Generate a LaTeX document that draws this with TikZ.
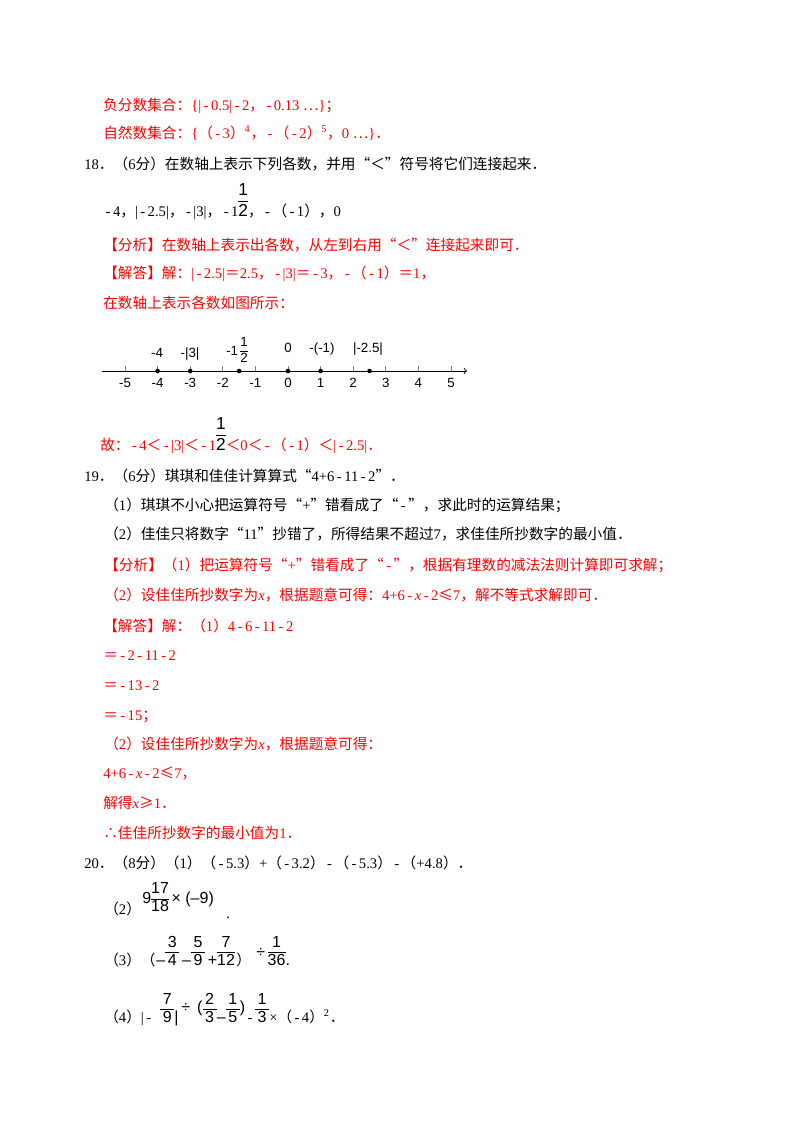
\documentclass[tikz,border=0pt]{standalone}
\usepackage{fontspec}
\setmainfont{Liberation Serif}
\newfontfamily\cjk{Noto Sans CJK SC}
\newfontfamily\arial{Liberation Sans}
\XeTeXinterchartokenstate=1
\newXeTeXintercharclass\cjkc
\newcount\cc
\cc="4E00 \loop \XeTeXcharclass\cc=\cjkc \advance\cc 1 \ifnum\cc<"A000 \repeat
\cc="3000 \loop \XeTeXcharclass\cc=\cjkc \advance\cc 1 \ifnum\cc<"3040 \repeat
\cc="FF00 \loop \XeTeXcharclass\cc=\cjkc \advance\cc 1 \ifnum\cc<"FFF0 \repeat
\XeTeXcharclass"201C=\cjkc \XeTeXcharclass"201D=\cjkc \XeTeXcharclass"2026=\cjkc
\XeTeXcharclass"2234=\cjkc \XeTeXcharclass"2264=\cjkc \XeTeXcharclass"2265=\cjkc
\XeTeXinterchartoks 0 \cjkc = {\begingroup\cjk}
\XeTeXinterchartoks 4095 \cjkc = {\begingroup\cjk}
\XeTeXinterchartoks \cjkc 0 = {\endgroup}
\XeTeXinterchartoks \cjkc 4095 = {\endgroup}
\newcommand\m{\,-\,}
\newcommand\bfr[2]{\begin{tabular}[b]{@{}c@{}}#1\\\hline #2\end{tabular}}
\newcommand\cfr[2]{\begin{tabular}[c]{@{}c@{}}#1\\\hline #2\end{tabular}}
\definecolor{rd}{RGB}{255,0,0}
\begin{document}
\begin{tikzpicture}[x=0.75pt,y=0.75pt,
  T/.style={anchor=base west,inner sep=0pt,font=\fontsize{11}{13}\selectfont},
  R/.style={T,text=rd},
  S/.style={anchor=base west,inner sep=0pt,font=\arial\fontsize{12}{13}\selectfont},
  L/.style={inner sep=0pt,font=\arial\fontsize{10}{11}\selectfont}]
\useasboundingbox[fill=white] (0,0) rectangle (800,-1132);
\node[R] (l1) at (103,-110) {负分数集合：\{|\m0.5|\m2，\m0.13 …\}；};
\node[R] (l2) at (103,-138) {自然数集合：\{（\m3）\textsuperscript{4}，\m（\m2）\textsuperscript{5}，0 …\}．};
\node[T] (l3) at (84,-169) {18．（6分）在数轴上表示下列各数，并用“＜”符号将它们连接起来．};
\node[T] (l4) at (103,-216) {\m4，|\m2.5|，\m|3|，\m1{\arial\fontsize{13}{15}\selectfont\bfr{1}{2}}，\m（\m1），0};
\node[R] (l5) at (103,-250) {【分析】在数轴上表示出各数，从左到右用“＜”连接起来即可．};
\node[R] (l6) at (103,-278) {【解答】解：|\m2.5|＝2.5，\m|3|＝\m3，\m（\m1）＝1，};
\node[R] (l7) at (103,-308) {在数轴上表示各数如图所示：};
% number line
\coordinate (a0) at (102,-371); \coordinate (a1) at (467,-371);
\draw[line width=0.7pt,->] (a0) -- (a1);
\foreach \k in {-5,...,5}{
  \coordinate (t\k) at ({288+32.6*\k},-371);
  \draw[line width=0.5pt,gray] (t\k) -- ++(0,5);
  \node[L,anchor=base] (n\k) at ({288+32.6*\k},-387) {\k};
}
\foreach \v in {-4,-3,-1.5,0,1,2.5}{\fill ({288+32.6*\v},-371) circle (2.3);}
\node[L,anchor=base] (p1) at (157,-357) {-4};
\node[L,anchor=base] (p2) at (190,-357) {-|3|};
\node[L,anchor=base] (p3) at (237,-362) {\raisebox{5pt}{-1}\,\bfr{1}{2}};
\node[L,anchor=base] (p4) at (288,-352) {0};
\node[L,anchor=base] (p5) at (322,-352) {-(-1)};
\node[L,anchor=base] (p6) at (368,-352) {|-2.5|};
\node[R] (l8) at (100,-450) {故：\m4＜\m|3|＜\m1{\arial\color{black}\fontsize{13}{15}\selectfont\bfr{1}{2}}＜0＜\m（\m1）＜|\m2.5|．};
\node[T] (l9) at (84,-481) {19．（6分）琪琪和佳佳计算算式“4+6\m11\m2”．};
\node[T] (l10) at (104,-510) {（1）琪琪不小心把运算符号“+”错看成了“\m”，求此时的运算结果；};
\node[T] (l11) at (104,-539) {（2）佳佳只将数字“11”抄错了，所得结果不超过7，求佳佳所抄数字的最小值．};
\node[R] (l12) at (104,-570) {【分析】（1）把运算符号“+”错看成了“\m”，根据有理数的减法法则计算即可求解；};
\node[R] (l13) at (104,-600) {（2）设佳佳所抄数字为\textit{x}，根据题意可得：4+6\m\textit{x}\m2≤7，解不等式求解即可．};
\node[R] (l14) at (103,-631) {【解答】解：（1）4\m6\m11\m2};
\node[R] (l15) at (103,-660) {＝\m2\m11\m2};
\node[R] (l16) at (103,-690) {＝\m13\m2};
\node[R] (l17) at (103,-720) {＝\m15；};
\node[R] (l18) at (104,-749) {（2）设佳佳所抄数字为\textit{x}，根据题意可得：};
\node[R] (l19) at (103,-778) {4+6\m\textit{x}\m2≤7，};
\node[R] (l20) at (103,-808) {解得\textit{x}≥1．};
\node[R] (l21) at (103,-838) {∴佳佳所抄数字的最小值为1．};
\node[T] (l22) at (84,-868) {20．（8分）（1）（\m5.3）+（\m3.2）\m（\m5.3）\m（+4.8）．};
\node[T] (l23) at (104,-914) {（2）};
\node[anchor=west,inner sep=0pt,font=\arial\fontsize{12}{13}\selectfont] (l23b) at (142,-899) {9\cfr{17}{18}\,× (–9)};
\node[T] (l23c) at (226,-918) {.};
\node[T] (l24) at (104,-965) {（3）（};
\node[S] (l24b) at (156,-965) {–\bfr{\,3\,}{\,4\,}\,–\bfr{\,5\,}{\,9\,}\,+\bfr{\,7\,}{12}};
\node[T] (l24c) at (236,-965) {）};
\node[S] (l24d) at (256,-965) {\raisebox{6pt}{÷}\,\bfr{\,1\,}{36}.};
\node[T] (l25) at (104,-1022) {（4）|\m};
\node[S] (l25b) at (160,-1022) {\bfr{\,7\,}{\,9\,}|\,\raisebox{7pt}{÷ \,(}\bfr{\,2\,}{\,3\,}–\bfr{\,1\,}{\,5\,}\raisebox{7pt}{)}};
\node[T] (l25c) at (245,-1022) {\m{\arial\fontsize{12}{13}\selectfont\bfr{\,1\,}{\,3\,}}×（\m4）\textsuperscript{2}．};
\end{tikzpicture}
\end{document}
